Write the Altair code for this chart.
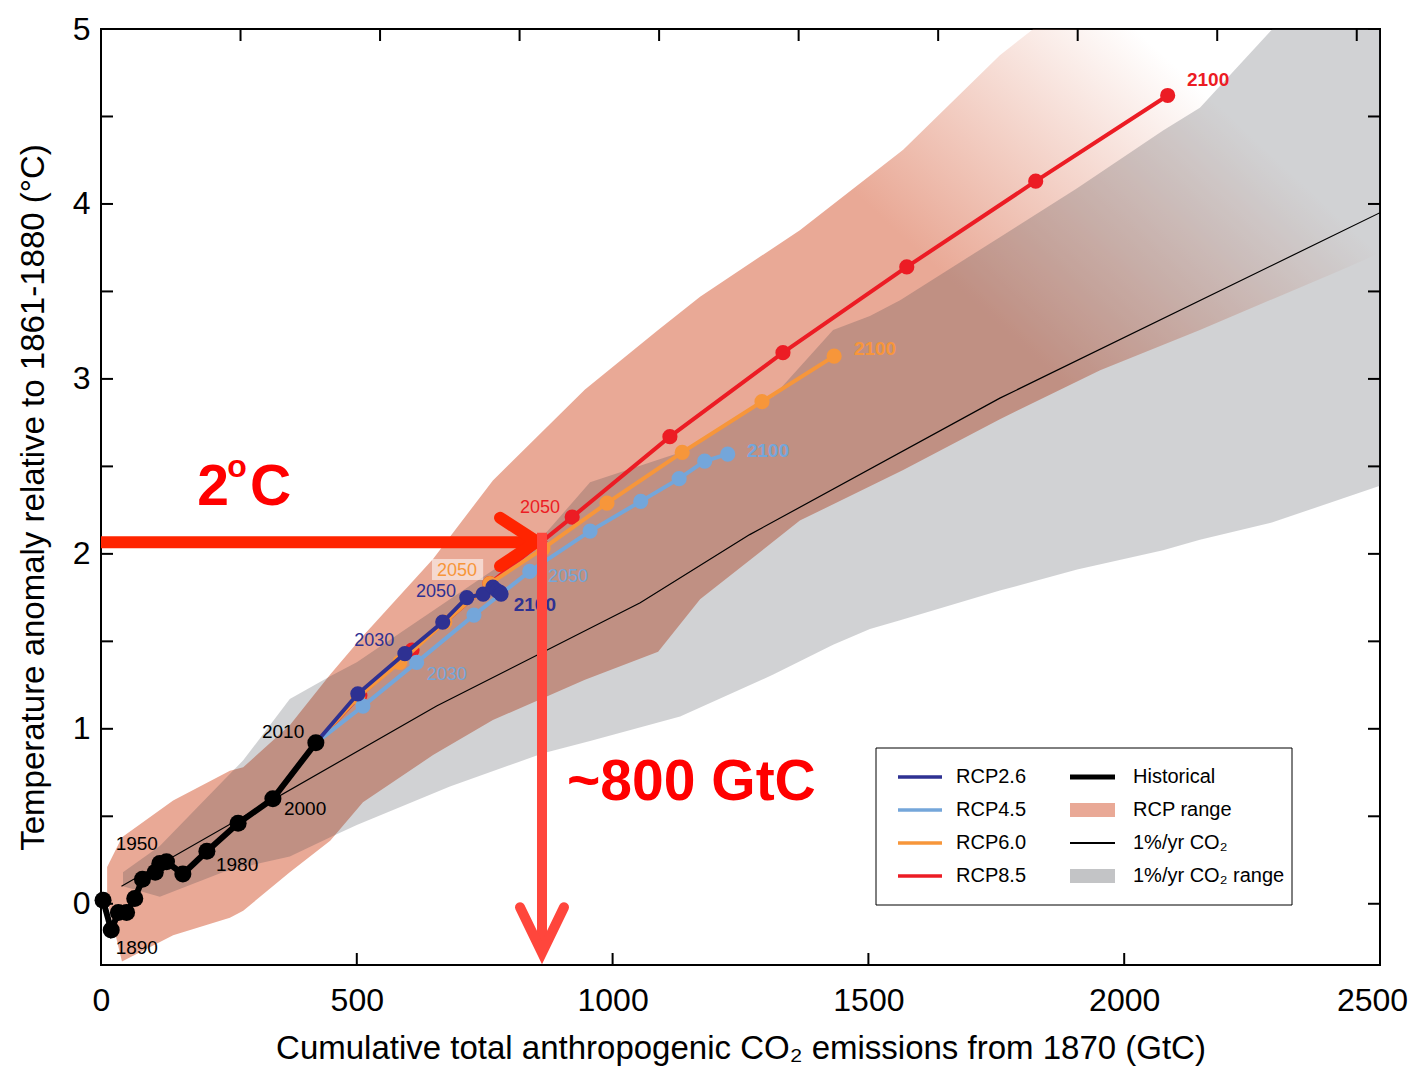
import altair as alt
import pandas as pd

# ---------------- data ----------------
hist_x = [4, 20, 34, 50, 66, 81, 106, 115, 128, 160, 207, 268, 336, 420]
hist_y = [0.02, -0.15, -0.05, -0.05, 0.03, 0.14, 0.18, 0.23, 0.24, 0.17, 0.30, 0.46, 0.60, 0.92]

rcp_years = [2010, 2020, 2030, 2040, 2050, 2060, 2070, 2080, 2090, 2100]
rcp26_x = [420, 502, 594, 668, 715, 747, 766, 774, 780, 782]
rcp26_y = [0.92, 1.20, 1.43, 1.61, 1.75, 1.77, 1.81, 1.79, 1.78, 1.77]
rcp45_x = [420, 512, 617, 729, 838, 956, 1055, 1130, 1180, 1225]
rcp45_y = [0.92, 1.13, 1.38, 1.65, 1.90, 2.13, 2.30, 2.43, 2.53, 2.57]
rcp60_x = [420, 502, 584, 672, 760, 864, 989, 1136, 1292, 1433]
rcp60_y = [0.92, 1.18, 1.38, 1.61, 1.83, 2.03, 2.29, 2.58, 2.87, 3.13]
rcp85_x = [420, 506, 608, 760, 921, 1112, 1333, 1575, 1827, 2085]
rcp85_y = [0.92, 1.19, 1.45, 1.83, 2.21, 2.67, 3.15, 3.64, 4.13, 4.62]

pct_x = [40, 656, 1054, 1268, 1757, 2500]
pct_y = [0.10, 1.13, 1.72, 2.11, 2.89, 3.95]

gray_x = [43, 115, 238, 278, 369, 448, 500, 682, 864, 956, 1132, 1314, 1431, 1503, 1562, 1757, 1908, 2076, 2148, 2290, 2500]
gray_lo = [0.10, 0.04, 0.18, 0.21, 0.27, 0.38, 0.45, 0.67, 0.86, 0.93, 1.07, 1.31, 1.48, 1.57, 1.62, 1.79, 1.91, 2.02, 2.08, 2.18, 2.39]
gray_hi = [0.18, 0.33, 0.70, 0.82, 1.17, 1.30, 1.38, 1.74, 2.10, 2.41, 2.58, 2.90, 3.28, 3.36, 3.45, 3.81, 4.09, 4.42, 4.55, 5.00, 5.60]

rcp_rng_x = [12, 41, 141, 252, 278, 369, 448, 512, 649, 766, 946, 1089, 1171, 1366, 1568, 1757, 1953, 2148, 2422, 2500]
rcp_rng_lo = [0.02, -0.33, -0.18, -0.08, -0.04, 0.18, 0.36, 0.58, 0.85, 1.05, 1.28, 1.44, 1.74, 2.19, 2.48, 2.77, 3.05, 3.28, 3.62, 3.72]
rcp_rng_hi = [0.21, 0.38, 0.59, 0.76, 0.78, 1.02, 1.31, 1.53, 1.97, 2.42, 2.94, 3.28, 3.47, 3.85, 4.31, 4.85, 5.30, 5.70, 6.20, 6.40]

hist_lab_text = ["1890", "1950", "1980", "2000", "2010"]
hist_lab_x = [70, 70, 266, 399, 356]
hist_lab_y = [-0.25, 0.34, 0.22, 0.54, 0.98]

yr_lab_text = ["2030", "2050", "2100", "2030", "2050", "2100", "2050", "2100", "2050", "2100"]
yr_lab_x = [534, 655, 848, 676, 913, 1304, 696, 1513, 858, 2164]
yr_lab_y = [1.50, 1.78, 1.71, 1.31, 1.87, 2.59, 1.90, 3.17, 2.26, 4.71]
yr_lab_series = ["RCP2.6", "RCP2.6", "RCP2.6", "RCP4.5", "RCP4.5", "RCP4.5", "RCP6.0", "RCP6.0", "RCP8.5", "RCP8.5"]
yr_lab_bold = [False, False, True, False, False, True, False, True, False, True]

# arrows (data units)
h_arrow_x = [0, 850]
h_arrow_y = [2.066, 2.066]
h_head_x = [780, 852, 780]
h_head_y = [2.206, 2.07, 1.93]
v_arrow_x = [862, 862]
v_arrow_y = [2.12, -0.25]
v_head_x = [819, 862, 905]
v_head_y = [-0.02, -0.28, -0.02]

x_ticks_bottom = [500, 1000, 1500, 2000]
gtco2_top = [1000, 2000, 3000, 4000, 5000, 6000, 7000, 8000, 9000]
y_ticks = [0, 0.5, 1, 1.5, 2, 2.5, 3, 3.5, 4, 4.5, 5]

colors = {"RCP2.6": "#2E3192", "RCP4.5": "#74A6DA", "RCP6.0": "#F7963A", "RCP8.5": "#EC1C24"}
PINK = "#E9A996"
GRAY_OVER = "rgb(55,59,68)"

W, H = 1279, 936
FONT = "Liberation Sans"

xs = alt.Scale(domain=[0, 2500], nice=False, zero=False)
ys = alt.Scale(domain=[-0.35, 5], nice=False, zero=False)
XT = "Cumulative total anthropogenic CO₂ emissions from 1870 (GtC)"
YT = "Temperature anomaly relative to 1861-1880 (°C)"


def X(f="x"):
    return alt.X(f"{f}:Q", scale=xs, title=XT,
                 axis=alt.Axis(values=[0, 500, 1000, 1500, 2000, 2500], format="d", labelPadding=20,
                               titlePadding=16, labelFlush=False,
                               labelOffset={"condition": {"test": "datum.value == 2500", "value": -8},
                                            "value": 0}))


def Y(f="y"):
    return alt.Y(f"{f}:Q", scale=ys, title=YT,
                 axis=alt.Axis(values=[0, 1, 2, 3, 4, 5], format="d", labelPadding=11, titlePadding=22))


# RCP range (pink, fading at the top right)
pink_df = pd.DataFrame({"x": rcp_rng_x, "lo": rcp_rng_lo, "hi": rcp_rng_hi})
pink_grad = alt.Gradient(
    gradient="linear",
    stops=[alt.GradientStop(color="rgba(233,169,150,1)", offset=0),
           alt.GradientStop(color="rgba(233,169,150,1)", offset=0.62),
           alt.GradientStop(color="rgba(233,169,150,0)", offset=0.80),
           alt.GradientStop(color="rgba(233,169,150,0)", offset=1)],
    x1=0, y1=1, x2=1, y2=0)
pink_area = alt.Chart(pink_df).mark_area(color=pink_grad, clip=True).encode(
    x=X(), y=Y("lo"), y2="hi:Q")

# 1%/yr range: translucent dark grey on top -> light grey on white, brown over pink
gray_df = pd.DataFrame({"x": gray_x, "lo": gray_lo, "hi": gray_hi})
gray_area = alt.Chart(gray_df).mark_area(color=GRAY_OVER, opacity=0.23, clip=True).encode(
    x=X(), y=Y("lo"), y2="hi:Q")

pct_df = pd.DataFrame({"x": pct_x, "y": pct_y})
pct_line = alt.Chart(pct_df).mark_line(color="black", strokeWidth=1.2, clip=True).encode(x=X(), y=Y())

layers = [pink_area, gray_area, pct_line]

for name, xv, yv in [("RCP8.5", rcp85_x, rcp85_y), ("RCP6.0", rcp60_x, rcp60_y),
                     ("RCP4.5", rcp45_x, rcp45_y), ("RCP2.6", rcp26_x, rcp26_y)]:
    df = pd.DataFrame({"x": xv, "y": yv, "year": rcp_years})
    base = alt.Chart(df)
    layers.append(base.mark_line(color=colors[name], strokeWidth=4).encode(x=X(), y=Y(), order="year:Q"))
    layers.append(base.transform_filter("datum.year > 2010").mark_circle(
        color=colors[name], opacity=1, size=230).encode(x=X(), y=Y()))

hist_df = pd.DataFrame({"x": hist_x, "y": hist_y, "i": list(range(len(hist_x)))})
layers.append(alt.Chart(hist_df).mark_line(color="black", strokeWidth=6).encode(x=X(), y=Y(), order="i:Q"))
layers.append(alt.Chart(hist_df).mark_circle(color="black", opacity=1, size=290).encode(x=X(), y=Y()))

hl_df = pd.DataFrame({"x": hist_lab_x, "y": hist_lab_y, "t": hist_lab_text})
layers.append(alt.Chart(hl_df).mark_text(font=FONT, fontSize=19, color="black").encode(
    x=X(), y=Y(), text="t:N"))

# label box behind orange 2050
box_df = pd.DataFrame({"x": [647], "x2": [747], "y": [1.85], "y2": [1.97]})
layers.append(alt.Chart(box_df).mark_rect(color="white", opacity=0.55).encode(
    x=X(), x2="x2:Q", y=Y(), y2="y2:Q"))

yl_df = pd.DataFrame({"x": yr_lab_x, "y": yr_lab_y, "t": yr_lab_text, "s": yr_lab_series, "b": yr_lab_bold})
for bold in (False, True):
    layers.append(alt.Chart(yl_df).transform_filter(
        "datum.b" if bold else "!datum.b").mark_text(
        font=FONT, fontSize=19 if bold else 18, fontWeight="bold" if bold else "normal").encode(
        x=X(), y=Y(), text="t:N",
        color=alt.Color("s:N", scale=alt.Scale(domain=list(colors.keys()), range=list(colors.values())),
                        legend=None)))

# arrows
layers.append(alt.Chart(pd.DataFrame({"x": h_arrow_x, "y": h_arrow_y})).mark_line(
    color="#FF2400", strokeWidth=12).encode(x=X(), y=Y()))
layers.append(alt.Chart(pd.DataFrame({"x": h_head_x, "y": h_head_y, "o": [0, 1, 2]})).mark_line(
    color="#FF2400", strokeWidth=12, strokeCap="round", strokeJoin="miter").encode(x=X(), y=Y(), order="o:Q"))
layers.append(alt.Chart(pd.DataFrame({"x": v_arrow_x, "y": v_arrow_y})).mark_line(
    color="#FF463C", strokeWidth=10).encode(x=X(), y=Y(), order="y:Q"))
layers.append(alt.Chart(pd.DataFrame({"x": v_head_x, "y": v_head_y, "o": [0, 1, 2]})).mark_line(
    color="#FF463C", strokeWidth=10, strokeCap="round", strokeJoin="miter").encode(x=X(), y=Y(), order="o:Q"))

# big annotations
ann_df = pd.DataFrame({"x": [188, 291, 911], "y": [2.28, 2.28, 0.594], "t": ["2", "C", "~800 GtC"]})
layers.append(alt.Chart(ann_df).mark_text(font=FONT, fontSize=57, fontWeight="bold", color="#FF0000",
                                          align="left", baseline="alphabetic").encode(x=X(), y=Y(), text="t:N"))
sup_df = pd.DataFrame({"x": [247], "y": [2.44], "t": ["o"]})
layers.append(alt.Chart(sup_df).mark_text(font=FONT, fontSize=32, fontWeight="bold", color="#FF0000",
                                          align="left", baseline="alphabetic").encode(x=X(), y=Y(), text="t:N"))

# inward ticks
one = pd.DataFrame({"a": [0]})
yt_df = pd.DataFrame({"y": y_ticks})
layers.append(alt.Chart(yt_df).mark_rule(color="black", strokeWidth=2).encode(
    y=Y(), x=alt.value(0), x2=alt.value(12)))
layers.append(alt.Chart(yt_df).mark_rule(color="black", strokeWidth=2).encode(
    y=Y(), x=alt.value(W - 12), x2=alt.value(W)))
xb_df = pd.DataFrame({"x": x_ticks_bottom})
layers.append(alt.Chart(xb_df).mark_rule(color="black", strokeWidth=2).encode(
    x=X(), y=alt.value(H - 12), y2=alt.value(H)))
xt_df = pd.DataFrame({"g": gtco2_top}).assign(x=lambda d: d["g"] * 12.0 / 44.0)
layers.append(alt.Chart(xt_df).mark_rule(color="black", strokeWidth=2).encode(
    x=X(), y=alt.value(0), y2=alt.value(12)))

# legend (hand-built)
LX0, LY0, LX1, LY1 = 775, 719, 1191, 876
layers.append(alt.Chart(one).mark_rect(fill="white", stroke="black", strokeWidth=1).encode(
    x=alt.value(LX0), x2=alt.value(LX1), y=alt.value(LY0), y2=alt.value(LY1)))
row_y = [748, 781, 814, 847]
leg1 = list(colors.items())
for i, (name, col) in enumerate(leg1):
    layers.append(alt.Chart(one).mark_rule(color=col, strokeWidth=3.5).encode(
        x=alt.value(797), x2=alt.value(841), y=alt.value(row_y[i]), y2=alt.value(row_y[i])))
    layers.append(alt.Chart(one).mark_text(font=FONT, fontSize=20, align="left", baseline="middle",
                                           color="black", text=name).encode(
        x=alt.value(855), y=alt.value(row_y[i])))
leg2 = [("Historical", "line", "black", 5), ("RCP range", "rect", PINK, 0),
        ("1%/yr CO₂", "line", "black", 2), ("1%/yr CO₂ range", "rect", "#C3C4C6", 0)]
for i, (name, kind, col, sw) in enumerate(leg2):
    if kind == "line":
        layers.append(alt.Chart(one).mark_rule(color=col, strokeWidth=sw).encode(
            x=alt.value(969), x2=alt.value(1014), y=alt.value(row_y[i]), y2=alt.value(row_y[i])))
    else:
        layers.append(alt.Chart(one).mark_rect(color=col).encode(
            x=alt.value(969), x2=alt.value(1014), y=alt.value(row_y[i] - 7), y2=alt.value(row_y[i] + 7)))
    layers.append(alt.Chart(one).mark_text(font=FONT, fontSize=20, align="left", baseline="middle",
                                           color="black", text=name).encode(
        x=alt.value(1032), y=alt.value(row_y[i])))

chart = alt.layer(*layers).properties(
    width=W, height=H,
    autosize=alt.AutoSizeParams(type="none"),
    padding={"left": 93, "top": 21, "right": 28, "bottom": 103},
    background="white",
).configure_view(stroke="black", strokeWidth=2).configure_axis(
    grid=False, ticks=False, domain=False,
    labelFont=FONT, labelFontSize=32, labelColor="black",
    titleFont=FONT, titleFontSize=33, titleFontWeight="normal", titleColor="black",
)

chart.save("out.html", embed_options={"renderer": "svg", "actions": False})
